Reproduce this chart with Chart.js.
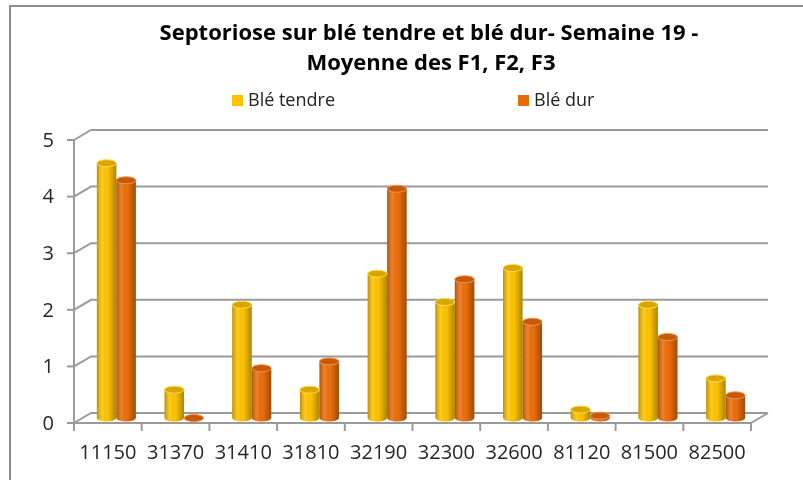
<!DOCTYPE html>
<html>
<head>
<meta charset="utf-8">
<script src="https://cdn.jsdelivr.net/npm/chart.js@4.4.0/dist/chart.umd.min.js"></script>
<style>
  body { margin: 0; background: #fff; }
  #wrap { position: relative; width: 803px; height: 480px; overflow: hidden; }
  #frame { position: absolute; left: 9px; top: 5px; width: 900px; height: 600px;
           border-top: 2px solid #8c8c8c; border-left: 2px solid #8c8c8c; }
  canvas { position: absolute; left: 0; top: 0; }
  .title { position: absolute; top: 16px; text-align: center; white-space: nowrap;
           font: bold 22px "Open Sans", sans-serif; line-height: 31px; color: #000; }
  .leg { position: absolute; top: 87px; font: 18px "Open Sans", sans-serif; color: #222; white-space: nowrap; }
  .leg span { display: inline-block; width: 11px; height: 11px; margin-right: 5px; vertical-align: 0px; }
</style>
</head>
<body>
<div id="wrap">
  <div id="frame"></div>
  <canvas id="septoChart" width="803" height="480"></canvas>
  <div class="title" style="left:0;width:858px;">Septoriose sur blé tendre et blé dur- Semaine 19 -</div>
  <div class="title" style="left:0;width:862px;top:46px;">Moyenne des F1, F2, F3</div>
  <div class="leg" style="left:232px;"><span style="background:#ffc000"></span>Blé tendre</div>
  <div class="leg" style="left:518px;"><span style="background:#e46c0a"></span>Blé dur</div>
</div>
<script>
// Data
const categories = ["11150", "31370", "31410", "31810", "32190", "32300", "32600", "81120", "81500", "82500"];
const bleTendre = [4.5, 0.5, 2.0, 0.5, 2.55, 2.05, 2.65, 0.15, 2.0, 0.7];
const bleDur = [4.2, 0, 0.88, 1.0, 4.05, 2.45, 1.7, 0.04, 1.43, 0.4];
const yTicks = [0, 1, 2, 3, 4, 5];

// depth offset of the fake 3D box (front plane / back wall vs. bar plane)
const DX = 8.5;
const DY = 5;
const gridColor = "#9a9a9a";
const labelFont = '20px "Open Sans", sans-serif';

// walls, floor, axes and tick labels
const boxPlugin = {
  id: "box3d",
  beforeDatasetsDraw(chart) {
    const ctx = chart.ctx;
    const x = chart.scales.x;
    const y = chart.scales.y;
    const area = chart.chartArea;
    const fl = area.left - DX, fr = area.right - DX;
    const bl = area.left + DX, br = area.right + DX;

    ctx.save();
    ctx.strokeStyle = gridColor;
    ctx.lineWidth = 2;

    yTicks.forEach((v) => {
      const py = y.getPixelForValue(v);
      ctx.beginPath();
      ctx.moveTo(fl, py + DY);
      ctx.lineTo(bl, py - DY);
      ctx.lineTo(br, py - DY);
      ctx.stroke();
      // tick mark
      ctx.beginPath();
      ctx.moveTo(fl - 7, py + DY);
      ctx.lineTo(fl, py + DY);
      ctx.stroke();
    });

    // floor front edge + right edge
    const y0 = y.getPixelForValue(0);
    ctx.beginPath();
    ctx.moveTo(fl, y0 + DY);
    ctx.lineTo(fr, y0 + DY);
    ctx.lineTo(br, y0 - DY);
    ctx.stroke();

    // front vertical axis
    ctx.beginPath();
    ctx.moveTo(fl, y.getPixelForValue(5) + DY);
    ctx.lineTo(fl, y0 + DY + 8);
    ctx.stroke();

    // category ticks
    const half = (x.getPixelForValue(1) - x.getPixelForValue(0)) / 2;
    for (let i = 0; i <= categories.length; i++) {
      const px = x.getPixelForValue(0) - half + i * half * 2 - DX;
      ctx.beginPath();
      ctx.moveTo(px, y0 + DY);
      ctx.lineTo(px, y0 + DY + 8);
      ctx.stroke();
    }

    // labels
    ctx.fillStyle = "#262626";
    ctx.font = labelFont;
    ctx.textAlign = "right";
    ctx.textBaseline = "middle";
    yTicks.forEach((v) => {
      ctx.fillText(String(v), fl - 20, y.getPixelForValue(v) + DY + 1);
    });
    ctx.textAlign = "center";
    categories.forEach((c, i) => {
      ctx.fillText(c, x.getPixelForValue(i) - DX, y0 + DY + 30);
    });
    ctx.restore();
  },
};

// cylinder shading: side gradient plus top and bottom ellipses
const cylinderPlugin = {
  id: "cylinder",
  afterDatasetDraw(chart, args) {
    const ctx = chart.ctx;
    const meta = args.meta;
    const base = meta.index === 0 ? "#ffc400" : "#ec6f0c";
    const top = meta.index === 0 ? "#d9a600" : "#c75a06";
    const rim = meta.index === 0 ? "#ffd94d" : "#f4914a";
    meta.data.forEach((el) => {
      const w = el.width;
      const l = el.x - w / 2;
      const ry = 3.5;
      const g = ctx.createLinearGradient(l, 0, l + w, 0);
      g.addColorStop(0, "rgba(0,0,0,0.28)");
      g.addColorStop(0.3, "rgba(255,255,255,0.12)");
      g.addColorStop(0.55, "rgba(0,0,0,0)");
      g.addColorStop(1, "rgba(0,0,0,0.32)");

      ctx.save();
      // bottom half ellipse
      ctx.beginPath();
      ctx.ellipse(el.x, el.base, w / 2, ry, 0, 0, Math.PI);
      ctx.fillStyle = base;
      ctx.fill();
      ctx.fillStyle = g;
      ctx.fill();
      // body shading
      if (el.base - el.y > 0) {
        ctx.fillStyle = g;
        ctx.fillRect(l, el.y, w, el.base - el.y);
      }
      // top
      ctx.beginPath();
      ctx.ellipse(el.x, el.y, w / 2, ry, 0, 0, Math.PI * 2);
      ctx.fillStyle = top;
      ctx.fill();
      ctx.strokeStyle = rim;
      ctx.lineWidth = 1;
      ctx.stroke();
      ctx.restore();
    });
  },
};

new Chart(document.getElementById("septoChart"), {
  type: "bar",
  data: {
    labels: categories,
    datasets: [
      {
        label: "Blé tendre",
        data: bleTendre,
        backgroundColor: "#ffc400",
        categoryPercentage: 0.576,
        barPercentage: 1.0,
      },
      {
        label: "Blé dur",
        data: bleDur,
        backgroundColor: "#ec6f0c",
        categoryPercentage: 0.576,
        barPercentage: 1.0,
      },
    ],
  },
  options: {
    responsive: false,
    animation: false,
    layout: {
      padding: { left: 82.5, right: 43.5, top: 135, bottom: 62 },
    },
    plugins: {
      legend: { display: false },
      title: { display: false },
      tooltip: { enabled: false },
    },
    scales: {
      x: { display: false },
      y: { display: false, min: 0, max: 5, ticks: { stepSize: 1 } },
    },
  },
  plugins: [boxPlugin, cylinderPlugin],
});
</script>
</body>
</html>
